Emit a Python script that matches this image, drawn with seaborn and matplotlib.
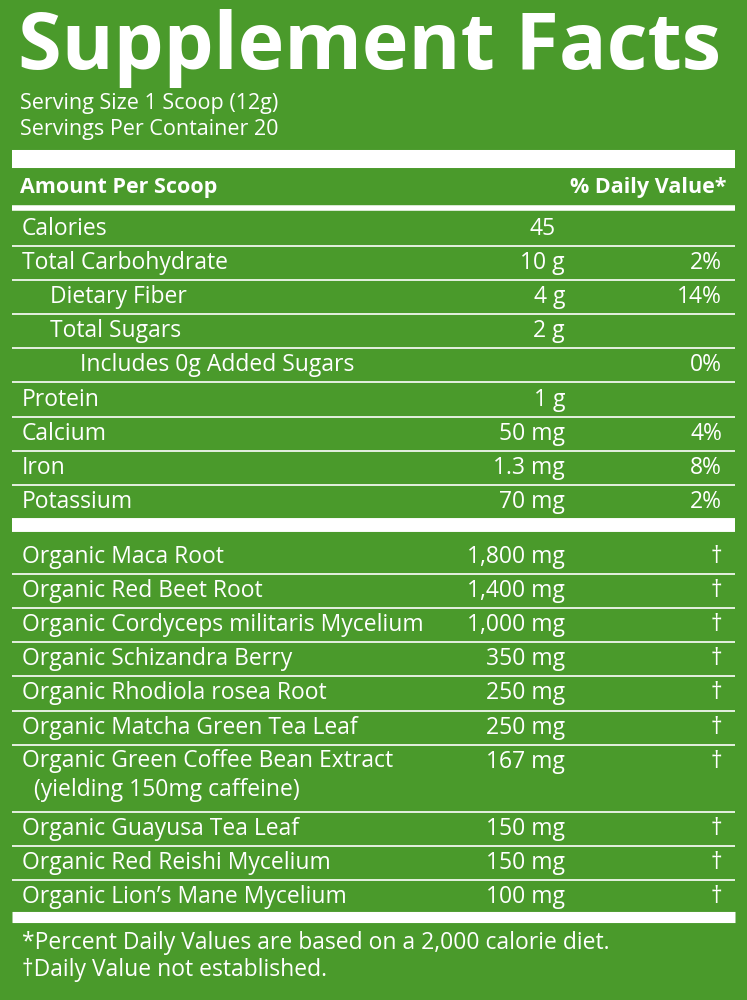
import matplotlib
matplotlib.use("Agg")
import matplotlib.pyplot as plt
import seaborn as sns

sns.set_theme(style="white")
plt.rcParams['font.family'] = ['Open Sans', 'DejaVu Sans']

GREEN = '#4a9a2b'
WHITE = 'white'

# nutrient rows: label, indent, amount, daily value
nutr_labels = ['Calories', 'Total Carbohydrate', 'Dietary Fiber', 'Total Sugars',
               'Includes 0g Added Sugars', 'Protein', 'Calcium', 'Iron', 'Potassium']
nutr_indent = [0, 0, 1, 1, 2, 0, 0, 0, 0]
nutr_amounts = ['45', '10 g', '4 g', '2 g', '', '1 g', '50 mg', '1.3 mg', '70 mg']
nutr_dv = ['', '2%', '14%', '', '0%', '', '4%', '8%', '2%']

ingr_labels = ['Organic Maca Root', 'Organic Red Beet Root',
               'Organic Cordyceps militaris Mycelium', 'Organic Schizandra Berry',
               'Organic Rhodiola rosea Root', 'Organic Matcha Green Tea Leaf',
               'Organic Green Coffee Bean Extract\n  (yielding 150mg caffeine)',
               'Organic Guayusa Tea Leaf', 'Organic Red Reishi Mycelium',
               "Organic Lion’s Mane Mycelium"]
ingr_amounts = ['1,800 mg', '1,400 mg', '1,000 mg', '350 mg', '250 mg', '250 mg',
                '167 mg', '150 mg', '150 mg', '100 mg']

fig = plt.figure(figsize=(7.47, 10), dpi=100)
fig.patch.set_facecolor(GREEN)
ax = fig.add_axes([0, 0, 1, 1])
ax.set_xlim(0, 747)
ax.set_ylim(1000, 0)
ax.axis('off')

X0, X1 = 12, 735
LX, AX, DX = 22, 565, 722
FS = 16.5

def hline(y, lw):
    ax.plot([X0, X1], [y, y], color=WHITE, lw=lw, solid_capstyle='butt')

ax.text(18, 48, 'Supplement Facts', color=WHITE, fontsize=57, fontweight='bold',
        va='center', ha='left')
ax.text(20, 103, 'Serving Size 1 Scoop (12g)', color=WHITE, fontsize=15.5, va='center')
ax.text(20, 130, 'Servings Per Container 20', color=WHITE, fontsize=15.5, va='center')
hline(159, 13)
ax.text(20, 187, 'Amount Per Scoop', color=WHITE, fontsize=15.5, fontweight='bold', va='center')
ax.text(727, 187, '% Daily Value*', color=WHITE, fontsize=15.5, fontweight='bold',
        va='center', ha='right')
hline(208, 4)

y = 229
step = 34.1
for i, (lab, ind, amt, dv) in enumerate(zip(nutr_labels, nutr_indent, nutr_amounts, nutr_dv)):
    ax.text(LX + [0, 28, 58][ind], y, lab, color=WHITE, fontsize=FS, va='center')
    if lab == 'Calories':
        ax.text(543, y, amt, color=WHITE, fontsize=FS, va='center', ha='center')
    else:
        ax.text(AX, y, amt, color=WHITE, fontsize=FS, va='center', ha='right')
    ax.text(DX, y, dv, color=WHITE, fontsize=FS, va='center', ha='right')
    if i < len(nutr_labels) - 1:
        hline(y + 17, 1.2)
    y += step
hline(525, 10)

y = 557
for i, (lab, amt) in enumerate(zip(ingr_labels, ingr_amounts)):
    two = '\n' in lab
    ax.text(LX, y - 13 if two else y, lab, color=WHITE, fontsize=FS,
            va='top' if two else 'center', linespacing=1.3)
    ax.text(AX, y, amt, color=WHITE, fontsize=FS, va='center', ha='right')
    ax.text(DX, y, '†', color=WHITE, fontsize=FS, va='center', ha='right')
    h = 67 if two else step
    if i < len(ingr_labels) - 1:
        hline(y + h - 17, 1.2)
    y += h
hline(917, 8)

ax.text(22, 943, '*Percent Daily Values are based on a 2,000 calorie diet.',
        color=WHITE, fontsize=16.5, va='center')
ax.text(22, 970, '†Daily Value not established.', color=WHITE, fontsize=16.5, va='center')

fig.savefig('out.png', dpi=100, facecolor=GREEN)
